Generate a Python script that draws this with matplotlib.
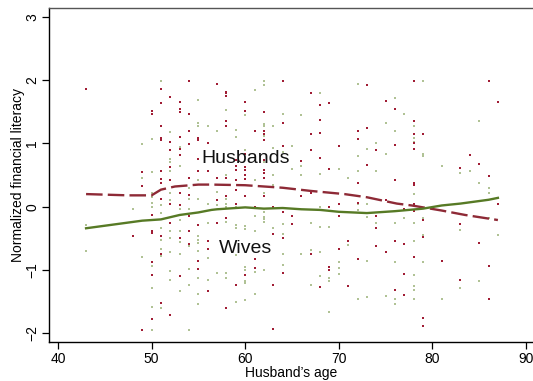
import matplotlib
matplotlib.use("Agg")
import matplotlib.pyplot as plt

plt.rcParams['font.family'] = ['Liberation Sans', 'DejaVu Sans']

# Scatter data: (husband's age, normalized financial literacy)
husbands_pts = {
    43: [1.86], 48: [-0.47], 49: [0.55, 0.32, -1.95],
    50: [1.52, 1.46, -0.13, -0.38, -0.42, -0.88, -1.08, -1.78],
    51: [1.86, 1.64, 1.27, 1.09, 1.05, 0.57, 0.44, 0.38, 0.13, -0.46, -0.75, -1.52],
    52: [1.73, 1.02, 0.89, 0.62, 0.43, 0.04, -0.26, -1.71],
    53: [1.66, 1.54, 1.49, 1.10, 0.91, 0.81, 0.21, 0.02, -0.50, -1.10],
    54: [1.99, 1.46, 1.20, 0.99, 0.46, 0.18, -0.15, -0.39, -0.59],
    55: [1.09, 1.05, 0.76, 0.57, -0.29, -0.85, -0.98],
    56: [1.00, 0.57, -0.54, -0.67, -1.33],
    57: [1.94, 0.45, 0.10, -0.26],
    58: [1.82, 1.79, 1.75, 1.36, 1.27, 0.45, 0.17, -0.18, -1.60],
    59: [0.74, 0.64, 0.58, 0.43, 0.27, 0.05, -1.24],
    60: [1.65, 1.52, 0.83, 0.63, 0.58, 0.50, 0.44, 0.17, -1.08],
    61: [1.19, -0.01, -0.83, -0.96],
    62: [1.49, 1.19, 1.15, 1.06, 0.74, 0.58, 0.53, 0.46, 0.17],
    63: [-0.01, -0.43, -1.24, -1.93],
    64: [1.99, 1.33, 0.96, -0.09, -0.50, -1.05],
    65: [-0.14, -0.28], 66: [0.72, 0.17],
    67: [1.79, 1.15, 0.89, 0.22, -0.75],
    68: [1.61, 1.37, 1.17, 0.77, -1.27],
    69: [1.64, 0.59, 0.00, -0.95, -1.00],
    70: [0.96, 0.05, -0.15, -0.67], 71: [-0.54, -1.25],
    72: [1.20, 1.07, 0.37, 0.06, -0.83], 73: [1.93, 1.24, 0.66],
    74: [0.89, -0.15, -0.34, -0.62], 75: [1.67, 0.11, -0.72],
    76: [1.54, 0.97, 0.43, -0.54, -1.32], 77: [-0.04, -0.59, -1.07, -1.39],
    78: [1.99, 1.35, 1.15, 1.01, 0.91, 0.38, 0.34, 0.04, -0.07, -0.80],
    79: [1.15, -0.21, -0.48, -1.75, -1.88], 81: [-0.86],
    83: [0.61, -0.28, -1.15], 84: [0.81], 85: [0.68, -0.58],
    86: [1.99, 0.49, -0.93, -1.46], 87: [1.65, 0.04],
}
wives_pts = {
    43: [-0.29, -0.70], 48: [-0.03], 49: [0.99, 0.45, -0.80],
    50: [1.07, 0.55, 0.22, 0.16, 0.06, 0.00, -0.94, -1.28, -1.58, -1.95],
    51: [1.99, 0.02, -0.10, -0.33, -0.52, -0.66, -0.78, -1.60],
    52: [1.18, 0.76, 0.71, 0.56, 0.22, 0.10, -0.39, -0.49, -0.72, -1.02, -1.16],
    53: [0.94, 0.64, -0.03, -0.21, -0.38, -0.56, -0.75, -1.33],
    54: [0.30, 0.13, -0.03, -0.62, -0.98, -1.24, -1.94],
    55: [1.69, 1.32, 1.27, 0.43, 0.12, -0.47, -0.53, -0.58, -0.70, -1.12, -1.38, -1.53],
    56: [1.27, 0.04, -0.25, -0.81, -1.16],
    57: [1.20, 0.23, 0.03, -1.05],
    58: [1.53, 0.50, 0.12, 0.05, 0.00, -0.24, -1.05, -1.12],
    59: [1.21, 1.10, 0.00, -0.29, -0.33, -0.76, -1.51],
    60: [1.45, 0.89, -0.31, -0.35, -0.95, -1.00, -1.17, -1.21, -1.47],
    61: [1.85, 0.43, -0.15, -0.38, -1.03, -1.38],
    62: [1.99, 1.93, 1.31, 1.27, 1.11, 0.71, 0.22, -0.09, -0.16, -0.19, -0.24, -1.00],
    63: [1.27, 0.93, 0.50, 0.35, -0.34],
    64: [1.47, 0.87, -0.28, -0.43, -0.75, -0.92],
    65: [0.96, 0.59], 66: [1.45, 0.64, 0.50, -0.74],
    67: [-0.26, -0.68, -1.23], 68: [1.80, 0.51, 0.00, -0.32, -0.71, -1.10],
    69: [-0.32, -1.13, -1.17, -1.66], 70: [0.59, -0.87, -0.96, -1.06],
    71: [0.46, -0.60], 72: [1.94, 0.80, 0.56, 0.05, -0.05, -1.46],
    73: [0.92, 0.04, -0.16, -0.85, -1.43], 74: [1.01, 0.56, -0.26],
    75: [1.33, 0.84, -1.41], 76: [1.72, 1.20, -0.25, -0.87, -1.46, -1.54],
    77: [1.46, -0.17],
    78: [1.27, 1.09, 1.03, 0.20, -0.25, -0.54, -1.08, -1.25, -1.31, -1.45],
    79: [1.99, 0.84, 0.80, -0.17, -0.44, -0.87], 81: [0.64, -1.46],
    83: [0.53, -0.36, -1.28], 84: [0.56], 85: [1.35, 0.37, -1.17],
    86: [0.29, 0.22, -0.17], 87: [-0.45],
}

# Smoothed curves
husb_line_age = [43, 47.5, 50, 51, 52.5, 55, 56.4, 60, 64, 67, 70.6, 73, 76.2, 77.8, 81, 83.5, 87]
husb_line_val = [0.20, 0.18, 0.18, 0.27, 0.32, 0.35, 0.35, 0.34, 0.30, 0.25, 0.20, 0.15, 0.05, 0.02, -0.06, -0.13, -0.21]
wife_line_age = [43, 49, 50, 51, 53, 55, 56.4, 57, 60, 62, 64, 66, 68, 70, 73, 76, 79, 81, 83, 86, 87]
wife_line_val = [-0.34, -0.22, -0.21, -0.20, -0.13, -0.09, -0.05, -0.04, -0.01, -0.03, -0.02, -0.04, -0.05, -0.08, -0.10, -0.07, -0.03, 0.02, 0.05, 0.11, 0.14]

x_ticks = [40, 50, 60, 70, 80, 90]
y_ticks = [-2, -1, 0, 1, 2, 3]
y_ticklabels = ['\u22122', '\u22121', '0', '1', '2', '3']

RED = '#A01C34'
GREEN = '#7C9A4E'

fig = plt.figure(figsize=(5.33, 3.81), dpi=100)
ax = fig.add_axes([49/533, 39/381, 1 - 49/533, (342 - 8)/381])

def flatten(d):
    xs, ys = [], []
    for k, vals in d.items():
        for v in vals:
            xs.append(k)
            ys.append(v)
    return xs, ys

wx, wy = flatten(wives_pts)
hx, hy = flatten(husbands_pts)
ax.scatter(wx, wy, s=1.3, marker='s', color=GREEN, alpha=0.6, linewidths=0, zorder=2)
ax.scatter(hx, hy, s=1.0, marker='s', color=RED, linewidths=0, zorder=2)

ax.plot(husb_line_age, husb_line_val, color='#8E2A36', lw=1.7, dashes=(7, 2.2), zorder=3)
ax.plot(wife_line_age, wife_line_val, color='#577A25', lw=1.7, zorder=3)

ax.text(60, 0.69, 'Husbands', fontsize=14, ha='center', va='baseline', color='#111111')
ax.text(60, -0.73, 'Wives', fontsize=14, ha='center', va='baseline', color='#111111')

ax.set_xlim(39.04, 90.75)
ax.set_ylim(-2.137, 3.14)
ax.set_xticks(x_ticks)
ax.set_yticks(y_ticks)
ax.set_yticklabels(y_ticklabels, rotation=90, va='center')
ax.tick_params(axis='both', direction='out', length=5, width=0.9, labelsize=10, color='black', pad=2)

ax.spines['right'].set_visible(False)
ax.spines['top'].set_color('#555555')
ax.spines['top'].set_linewidth(1.0)
ax.spines['left'].set_linewidth(1.0)
ax.spines['bottom'].set_linewidth(1.0)

ax.set_xlabel("Husband\u2019s age", fontsize=10, labelpad=0)
ax.set_ylabel("Normalized financial literacy", fontsize=10, labelpad=0)

fig.savefig('out.png', dpi=100)
